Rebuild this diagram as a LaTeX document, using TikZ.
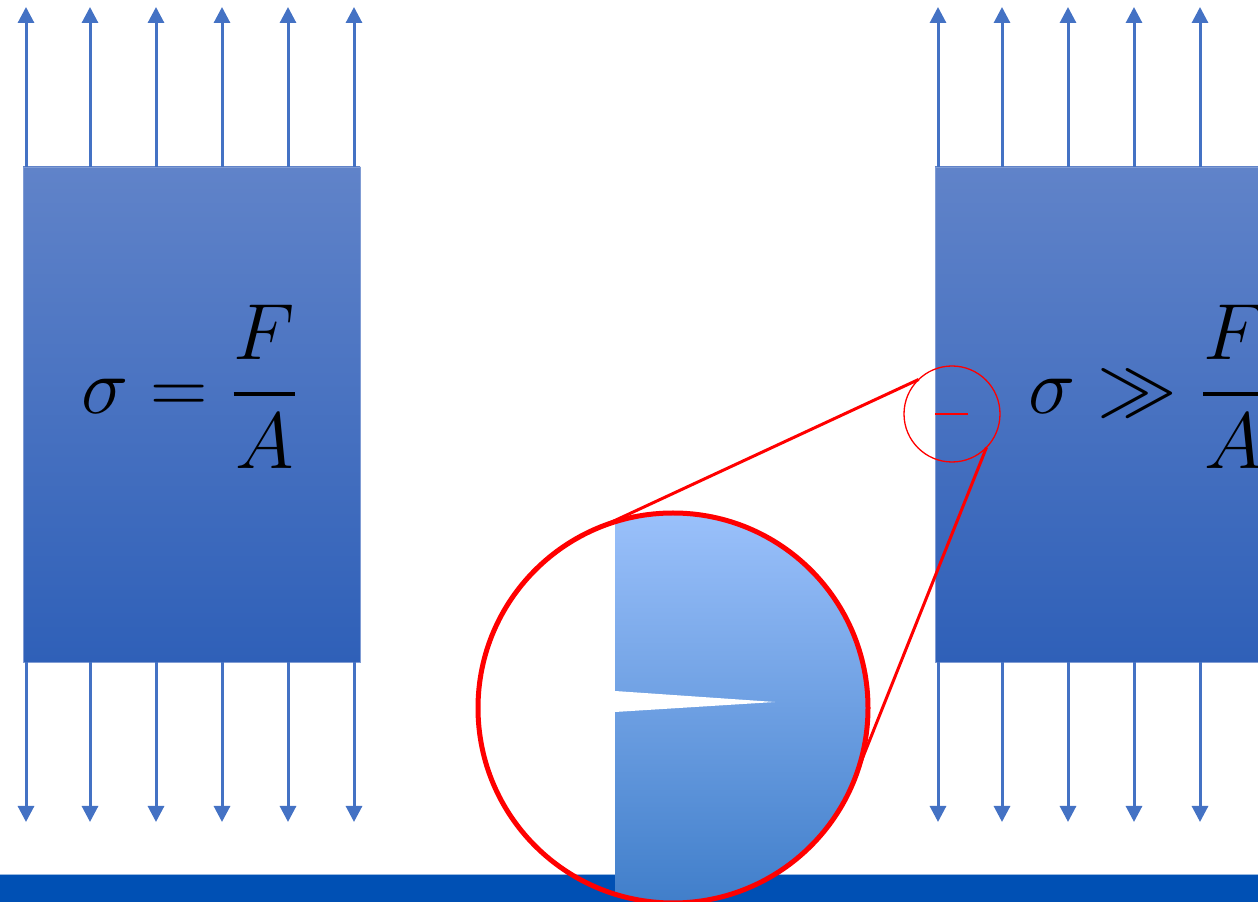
\documentclass[tikz,border=0pt]{standalone}
\usepackage{amsmath}
\usepackage{graphicx}
\usetikzlibrary{arrows.meta,shapes.geometric}
\definecolor{arrowblue}{RGB}{68,114,196}
\definecolor{boxtop}{RGB}{96,131,201}
\definecolor{boxbot}{RGB}{47,96,184}
\definecolor{barblue}{RGB}{0,80,180}
\definecolor{zoomtop}{RGB}{155,193,251}
\definecolor{zoombot}{RGB}{64,126,202}
\definecolor{crackred}{RGB}{255,0,0}
\tikzset{
  force/.style={draw=arrowblue, line width=3pt, -{Triangle[width=16pt,length=16pt]}},
  specimen/.style={rectangle, inner sep=0pt, outer sep=0pt, top color=boxtop, bottom color=boxbot, draw=boxtop!80!white, line width=0.6pt},
  formula/.style={inner sep=0pt, font=\Huge},
  lens/.style={circle, draw=crackred, inner sep=0pt, outer sep=0pt},
  zoomline/.style={draw=crackred, line width=3pt}
}
\newcommand{\bigmath}[1]{\scalebox{3.2}{$#1$}}
\begin{document}
\begin{tikzpicture}[x=1pt,y=1pt]
\useasboundingbox (0,0) rectangle (1258,902);
% bottom bar
\fill[barblue] (0,0) rectangle (1258,28);
\draw[barblue!40!white, line width=0.8pt] (0,28) -- (1258,28);
% left specimen
\node[specimen, minimum width=337pt, minimum height=495pt, anchor=south west] (lbox) at (23,240) {};
\foreach \x/\n in {26/1,90/2,156/3,222/4,288/5,354/6}{
  \coordinate (lt\n) at (\x,735);
  \coordinate (ltt\n) at (\x,895);
  \coordinate (lb\n) at (\x,240);
  \coordinate (lbb\n) at (\x,80);
  \draw[force] (lt\n) -- (ltt\n);
  \draw[force] (lb\n) -- (lbb\n);
}
\node[formula] (lf) at (190,515) {\bigmath{\sigma = \dfrac{F}{A}}};
% right specimen
\node[specimen, minimum width=335pt, minimum height=495pt, anchor=south west] (rbox) at (935,240) {};
\foreach \x/\n in {938/1,1002/2,1068/3,1134/4,1200/5}{
  \coordinate (rt\n) at (\x,735);
  \coordinate (rtt\n) at (\x,895);
  \coordinate (rb\n) at (\x,240);
  \coordinate (rbb\n) at (\x,80);
  \draw[force] (rt\n) -- (rtt\n);
  \draw[force] (rb\n) -- (rbb\n);
}
\node[formula, anchor=west] (rf) at (1028,515) {\bigmath{\sigma \gg \dfrac{F}{A}}};
% small lens with crack
\coordinate (c1) at (935,488);
\coordinate (c2) at (968,488);
\draw[crackred, line width=1.5pt] (c1) -- (c2);
\node[lens, line width=1.3pt, minimum size=96pt] (smallc) at (952,488) {};
% big lens content
\begin{scope}
  \clip (673,194) circle (195);
  \shade[top color=zoomtop, bottom color=zoombot] (615,-2) rectangle (880,392);
  \fill[white] (615,211) -- (775,200) -- (615,190) -- cycle;
\end{scope}
\node[lens, line width=5pt, minimum size=390pt] (bigc) at (673,194) {};
% connectors
\draw[zoomline] (smallc.134) -- (bigc.111);
\draw[zoomline] (smallc.-44) -- (bigc.-18);
\end{tikzpicture}
\end{document}
